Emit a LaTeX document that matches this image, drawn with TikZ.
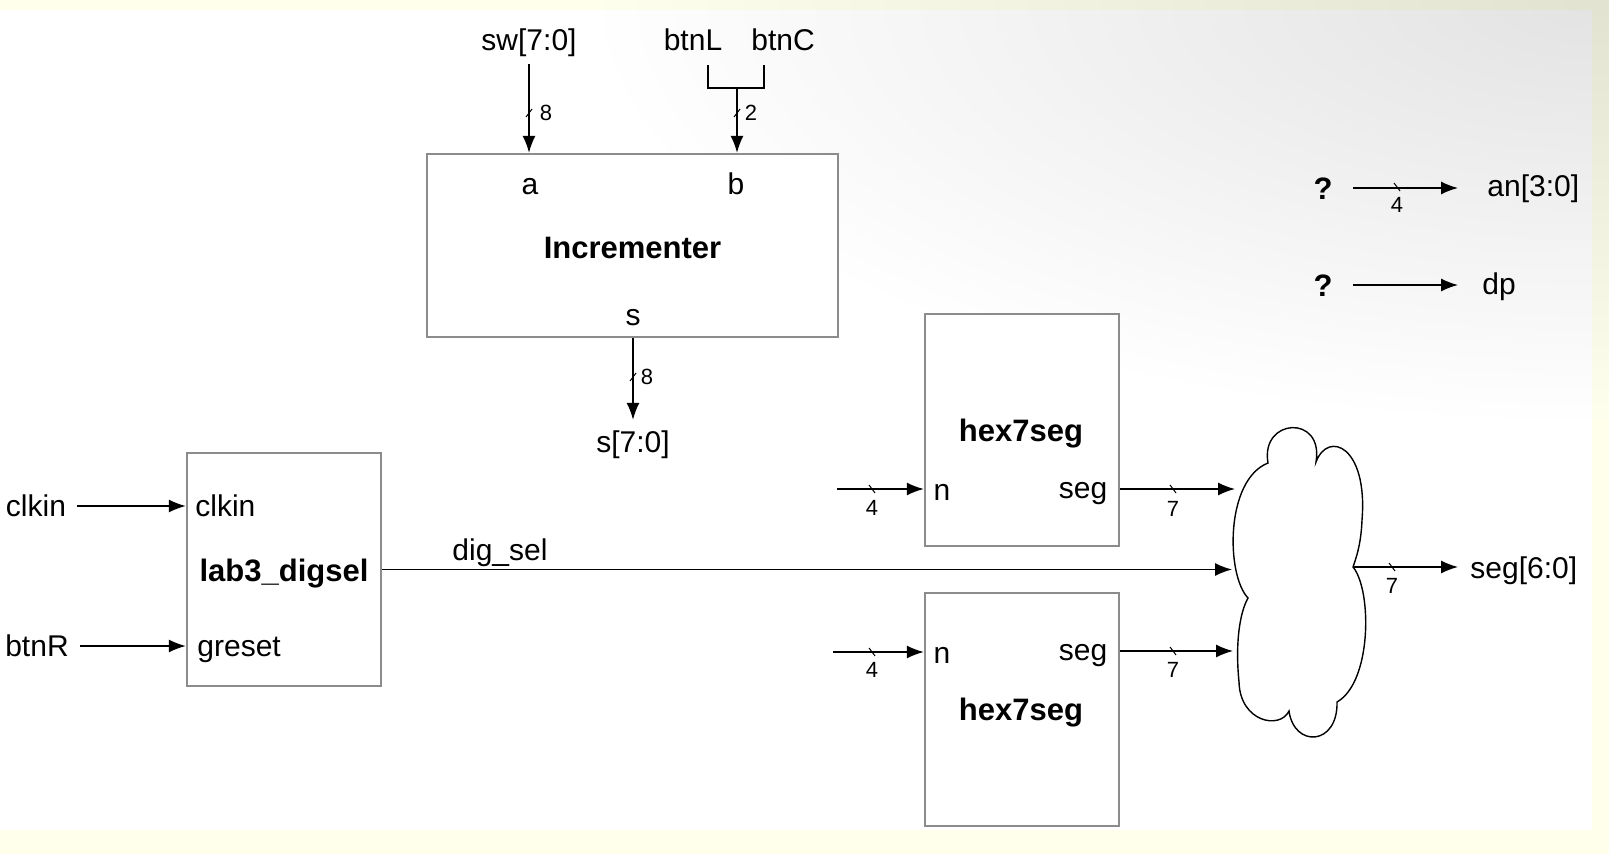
\documentclass[tikz,border=0pt]{standalone}
\usepackage{fontspec}
\setmainfont{Liberation Sans}
\usetikzlibrary{arrows.meta}
\definecolor{bgyellow}{HTML}{FFFFEB}
\definecolor{boxgray}{HTML}{8C8C8C}
\begin{document}
\begin{tikzpicture}[x=0.5pt,y=-0.5pt,
  lbl/.style={font=\fontsize{15}{18}\selectfont, inner sep=0pt, text height=10.8pt, text depth=0pt},
  blbl/.style={font=\fontsize{15.5}{18}\selectfont\bfseries, inner sep=0pt, text height=11.2pt, text depth=0pt},
  num/.style={font=\fontsize{11}{12}\selectfont, inner sep=0pt},
  blk/.style={draw=boxgray, line width=1.2pt, fill=white, inner sep=0pt},
  wire/.style={line width=0.7pt, -{Latex[length=8.5pt,width=6.5pt]}},
  plainw/.style={line width=0.7pt},
  pics/vslash/.style={code={\draw[line width=0.5pt] (-3,4) -- (3,-4);}},
  pics/hslash/.style={code={\draw[line width=0.5pt] (-3,-4) -- (3,4);}}
]
% background
\fill[bgyellow] (0,0) rectangle (1609,854);
\fill[white] (0,10) rectangle (1592,830);
\begin{scope}
\clip (0,0) rectangle (1609,854);
\shade[opacity=0.11, inner color=black, outer color=white] (1600,0) ellipse[x radius=1000, y radius=420];
\end{scope}
\useasboundingbox (0,0) rectangle (1609,854);

% Incrementer
\node[blk, minimum width=205.5pt, minimum height=91.5pt] (inc) at (632.5,245.5) {};
\node[blbl] (inclbl) at (632.5,247) {Incrementer};
\node[lbl] (pa) at (530,184) {a};
\node[lbl] (pb) at (736,184) {b};
\node[lbl] (ps) at (633,315) {s};

\node[lbl] (sw) at (529,40) {sw[7:0]};
\node[lbl] (btnL) at (693,40) {btnL};
\node[lbl] (btnC) at (783,40) {btnC};
\coordinate (jl) at (708,65);
\coordinate (jr) at (764,65);
\coordinate (jm) at (737,88);
\draw[plainw] (jl) |- (jm) -| (jr);
\draw[wire] (529,64) coordinate (swdrop) -- (swdrop |- inc.north);
\draw[wire] (jm) -- (jm |- inc.north);
\pic at (529,113) {vslash};
\node[num] (n8a) at (546,113) {8};
\pic at (737,113) {vslash};
\node[num] (n2) at (751,113) {2};

\node[lbl] (sout) at (633,442) {s[7:0]};
\coordinate (souttip) at ([yshift=5.5pt]sout.north);
\draw[wire] (ps |- inc.south) -- (souttip);
\pic at (633,377) {vslash};
\node[num] (n8b) at (647,377) {8};

% lab3_digsel
\node[blk, minimum width=97pt, minimum height=116.5pt] (dig) at (284,569.5) {};
\node[blbl] (diglbl) at (284,570) {lab3\_digsel};
\node[lbl, anchor=west] (pclk) at (195,506) {clkin};
\node[lbl, anchor=west] (prst) at (197,646) {greset};
\node[lbl] (clkext) at (36,506) {clkin};
\node[lbl] (btnR) at (37,646) {btnR};
\draw[wire] ([xshift=5.5pt]clkext.east) -- (clkext.east -| dig.west);
\draw[wire] ([xshift=5.5pt]btnR.east) -- (btnR.east -| dig.west);

% cloud
\coordinate (c1) at (1235,489);
\coordinate (cd) at (1232,570);
\coordinate (c2) at (1233,651);
\coordinate (cout) at (1353,567);
\draw[plainw, fill=white] (1268,463) .. controls (1260,418) and (1324,414) .. (1316,462)
 .. controls (1328,430) and (1368,446) .. (1362,520)
 .. controls (1361,545) and (1356,558) .. (cout)
 .. controls (1372,590) and (1372,682) .. (1337,702)
 .. controls (1338,746) and (1294,748) .. (1289,711)
 .. controls (1280,730) and (1240,722) .. (1239,682)
 .. controls (1235,642) and (1240,612) .. (1248,598)
 .. controls (1226,575) and (1225,480) .. cycle;

\draw[wire] (dig.east) -- (dig.east -| cd);
\node[lbl] (digsel) at (500,550) {dig\_sel};

% hex7seg top
\node[blk, minimum width=97pt, minimum height=116pt] (h1) at (1022,430) {};
\node[blbl] (h1lbl) at (1021,430) {hex7seg};
\node[lbl] (h1n) at (942,490) {n};
\node[lbl] (h1s) at (1083,488) {seg};
\coordinate (h1in) at (837,489);
\draw[wire] (h1in) -- (h1in -| h1.west);
\draw[wire] (h1.east |- c1) -- (c1);
\pic at (872,489) {hslash};
\node[num] (h1n4) at (872,508) {4};
\pic at (1173,489) {hslash};
\node[num] (h1n7) at (1173,509) {7};

% hex7seg bottom
\node[blk, minimum width=97pt, minimum height=116.5pt] (h2) at (1022,709.5) {};
\node[blbl] (h2lbl) at (1021,709) {hex7seg};
\node[lbl] (h2n) at (942,653) {n};
\node[lbl] (h2s) at (1083,650) {seg};
\coordinate (h2in) at (833,652);
\draw[wire] (h2in) -- (h2in -| h2.west);
\draw[wire] (h2.east |- c2) -- (c2);
\pic at (872,652) {hslash};
\node[num] (h2n4) at (872,670) {4};
\pic at (1173,651) {hslash};
\node[num] (h2n7) at (1173,670) {7};

% output
\node[lbl, anchor=west] (segout) at (1470,568) {seg[6:0]};
\coordinate (segtip) at ([xshift=-6pt]segout.west);
\draw[wire] (cout) -- (cout -| segtip);
\pic at (1392,567) {hslash};
\node[num] (on7) at (1392,586) {7};

% an / dp
\node[blbl] (q1) at (1323,188) {?};
\node[lbl, anchor=west] (an) at (1487,186) {an[3:0]};
\coordinate (q1s) at ([xshift=10pt]q1.east);
\coordinate (antip) at ([xshift=-14.5pt]an.west);
\draw[wire] (q1s) -- (q1s -| antip);
\pic at (1397,187) {hslash};
\node[num] (an4) at (1397,205) {4};
\node[blbl] (q2) at (1323,285) {?};
\node[lbl, anchor=west] (dp) at (1482,284) {dp};
\coordinate (q2s) at ([xshift=10pt]q2.east);
\coordinate (dptip) at ([xshift=-12pt]dp.west);
\draw[wire] (q2s) -- (q2s -| dptip);
\end{tikzpicture}
\end{document}
